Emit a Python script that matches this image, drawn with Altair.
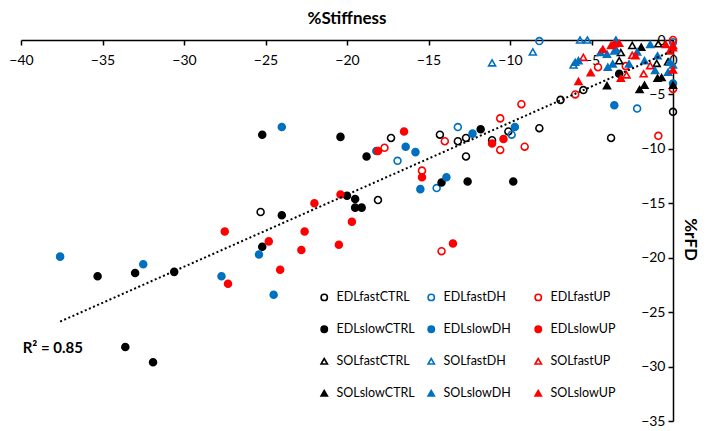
import altair as alt
import pandas as pd

groups = ["EDLfastCTRL", "EDLfastDH", "EDLfastUP",
          "EDLslowCTRL", "EDLslowDH", "EDLslowUP",
          "SOLfastCTRL", "SOLfastDH", "SOLfastUP",
          "SOLslowCTRL", "SOLslowDH", "SOLslowUP"]

edl_fast_ctrl_x = [-25.3, -17.3, -18.1, -14.3, -13.2, -12.7, -12.7, -11.1, -10.1, -8.2, -6.9, -5.5, -3.8, 0.0]
edl_fast_ctrl_y = [-15.8, -9.0, -14.7, -8.7, -9.3, -9.0, -10.7, -9.2, -8.4, -8.1, -5.5, -4.6, -9.0, -6.6]

edl_fast_dh_x = [-16.9, -13.2, -14.5, -9.9, -8.2, -2.2, 0.0]
edl_fast_dh_y = [-11.1, -8.0, -13.6, -8.7, -0.1, -6.3, -0.2]

edl_fast_up_x = [-17.7, -14.0, -15.4, -14.2, -10.6, -9.1, -10.6, -9.3, -6.0, -4.6, -2.9, -0.9, 0.0, 0.0]
edl_fast_up_y = [-9.9, -9.3, -12.0, -19.4, -10.1, -9.8, -7.2, -5.9, -5.0, -2.5, -2.4, -8.8, -4.5, 0.0]

edl_slow_ctrl_x = [-35.3, -33.0, -30.6, -33.6, -31.9, -25.2, -25.2, -20.4, -18.8, -20.0, -19.5, -19.5, -19.1,
                   -24.0, -14.2, -12.6, -9.8, -11.8, -3.3]
edl_slow_ctrl_y = [-21.7, -21.4, -21.3, -28.2, -29.6, -19.0, -8.7, -8.9, -10.7, -14.3, -14.6, -15.4, -15.4,
                   -16.1, -13.1, -13.0, -13.0, -8.2, -3.1]

edl_slow_dh_x = [-37.6, -32.5, -27.7, -25.4, -24.5, -24.0, -18.2, -16.4, -15.8, -15.5, -13.9, -12.3, -9.7, -3.6, 0.0]
edl_slow_dh_y = [-19.9, -20.6, -21.7, -19.7, -23.4, -8.0, -10.2, -9.8, -10.3, -13.7, -12.6, -8.6, -8.0, -6.0, -4.0]

edl_slow_up_x = [-27.5, -27.3, -24.8, -24.1, -22.6, -22.8, -22.0, -20.4, -20.5, -19.7, -16.5, -18.1, -15.4,
                 -13.5, -11.1, -10.4]
edl_slow_up_y = [-17.6, -22.4, -18.5, -21.1, -17.6, -19.3, -15.0, -14.2, -18.8, -16.7, -8.4, -10.2, -12.6,
                 -18.7, -9.5, -9.1]

sol_fast_ctrl_x = [-2.5, -3.2, -0.9, -3.3, -1.0, -0.3]
sol_fast_ctrl_y = [-0.5, -1.15, -0.35, -1.9, -2.15, -2.0]

sol_fast_dh_x = [-11.1, -8.6, -5.7, -5.25, -6.1, -3.6]
sol_fast_dh_y = [-2.1, -1.1, 0.0, 0.0, -2.3, -1.0]

sol_fast_up_x = [-5.5, -2.85, -1.8, -1.4, -2.5, 0.0]
sol_fast_up_y = [-1.6, -3.2, -3.1, -2.35, -1.4, -0.5]

sol_slow_ctrl_x = [-4.05, -2.05, -1.75, -0.95, -0.7, 0.0, -1.95]
sol_slow_ctrl_y = [-4.2, -4.55, -4.15, -3.5, -3.45, -4.15, -0.65]

sol_slow_dh_x = [-3.5, -6.0, -5.8, -4.45, -4.05, -3.5, -4.0, -3.7, -2.7, -1.4, -1.75, -1.1, -0.2, 0.0, -0.3, -2.2, -0.95]
sol_slow_dh_y = [0.0, -2.05, -1.9, -1.15, -1.3, -0.85, -2.5, -2.2, -2.2, -0.4, -1.9, -2.8, -2.05, -2.3, -2.95, -1.1, -1.45]

sol_slow_up_x = [-4.3, -3.8, -3.6, -5.05, -5.8, -3.2, -0.45, 0.0, 0.0, -2.3, -0.2, -3.3]
sol_slow_up_y = [-0.85, -0.5, -0.35, -3.0, -3.8, -3.5, -0.4, -0.7, -2.75, -1.45, -1.0, -0.3]

x_ticks = [-40, -35, -30, -25, -20, -15, -10, -5, 0]
y_ticks = [0, -5, -10, -15, -20, -25, -30, -35]
r2_label = "R\u00b2 = 0.85"

series_x = [edl_fast_ctrl_x, edl_fast_dh_x, edl_fast_up_x, edl_slow_ctrl_x, edl_slow_dh_x, edl_slow_up_x,
            sol_fast_ctrl_x, sol_fast_dh_x, sol_fast_up_x, sol_slow_ctrl_x, sol_slow_dh_x, sol_slow_up_x]
series_y = [edl_fast_ctrl_y, edl_fast_dh_y, edl_fast_up_y, edl_slow_ctrl_y, edl_slow_dh_y, edl_slow_up_y,
            sol_fast_ctrl_y, sol_fast_dh_y, sol_fast_up_y, sol_slow_ctrl_y, sol_slow_dh_y, sol_slow_up_y]

rows = []
for g, xs, ys in zip(groups, series_x, series_y):
    for xv, yv in zip(xs, ys):
        rows.append({"group": g, "x": xv, "y": yv})
df = pd.DataFrame(rows)

BLACK, BLUE, RED = "#000000", "#0070C0", "#FF0000"
stroke_of = dict(zip(groups, [BLACK, BLUE, RED] * 4))
fill_of = dict(zip(groups, ["transparent"] * 3 + [BLACK, BLUE, RED] + ["transparent"] * 3 + [BLACK, BLUE, RED]))
shape_of = dict(zip(groups, ["circle"] * 6 + ["triangle-up"] * 6))

# legend fills its 3 columns top-to-bottom, so order the domain column by column
legend_order = [groups[r * 3 + c] for c in range(3) for r in range(4)]
strokes = [stroke_of[g] for g in legend_order]
fills = [fill_of[g] for g in legend_order]
shapes = [shape_of[g] for g in legend_order]

W, H = 652, 381
FONT = "Lato"

x_enc = alt.X("x:Q", scale=alt.Scale(domain=[-40, 0], nice=False, zero=False),
              axis=alt.Axis(orient="bottom", offset=-H, values=x_ticks, title=None,
                            labelFlush=False, labelOverlap=False, grid=False,
                            domainColor="black", domainWidth=1.5, tickColor="black",
                            tickWidth=1.5, tickSize=5, labelPadding=8,
                            labelFont=FONT, labelFontSize=14, labelColor="black"))
y_enc = alt.Y("y:Q", scale=alt.Scale(domain=[-35, 0], nice=False, zero=False),
              axis=alt.Axis(orient="left", offset=-W, values=y_ticks, title="%rFD",
                            titleAngle=90, titleX=16, titleY=199, titleAlign="center",
                            titleBaseline="middle", titleFont=FONT, titleFontSize=17,
                            titleFontWeight="bold", titleColor="black",
                            labelFlush=False, labelOverlap=False, grid=False,
                            domainColor="black", domainWidth=1.5, tickColor="black",
                            tickWidth=1.5, tickSize=5, labelPadding=3,
                            labelFont=FONT, labelFontSize=14, labelColor="black"))

leg = alt.Legend(title=None, orient="none", legendX=297, legendY=251, columns=3,
                 gridAlign="all", columnPadding=9, rowPadding=18, padding=0,
                 symbolSize=40, symbolStrokeWidth=1.6, labelOffset=6,
                 labelFont=FONT, labelFontSize=12.5, labelColor="black")

base = alt.Chart(df)

points = base.mark_point(opacity=1, size=48, strokeWidth=1.6).encode(
    x=x_enc, y=y_enc,
    stroke=alt.Stroke("group:N", scale=alt.Scale(domain=legend_order, range=strokes), legend=leg),
    fill=alt.Fill("group:N", scale=alt.Scale(domain=legend_order, range=fills), legend=leg),
    shape=alt.Shape("group:N", scale=alt.Scale(domain=legend_order, range=shapes), legend=leg),
)

trend = base.transform_regression("x", "y").mark_line(
    color="black", strokeWidth=2, strokeDash=[2, 2.5]
).encode(x=x_enc, y=y_enc)

r2 = alt.Chart(pd.DataFrame({"x": [-39.9], "y": [-28.3], "t": [r2_label]})).mark_text(
    align="left", baseline="middle", font=FONT, fontSize=15, fontWeight="bold", color="black"
).encode(x=x_enc, y=y_enc, text="t:N")

chart = alt.layer(points, trend, r2).properties(
    width=W, height=H, padding={"top": 2, "right": 3, "left": 0, "bottom": 0},
    title=alt.TitleParams("%Stiffness", font=FONT, fontSize=17, fontWeight="bold",
                          color="black", anchor="middle", frame="group", offset=5),
).configure_view(strokeWidth=0)

chart.save("out.html", embed_options={"renderer": "svg", "actions": False})
